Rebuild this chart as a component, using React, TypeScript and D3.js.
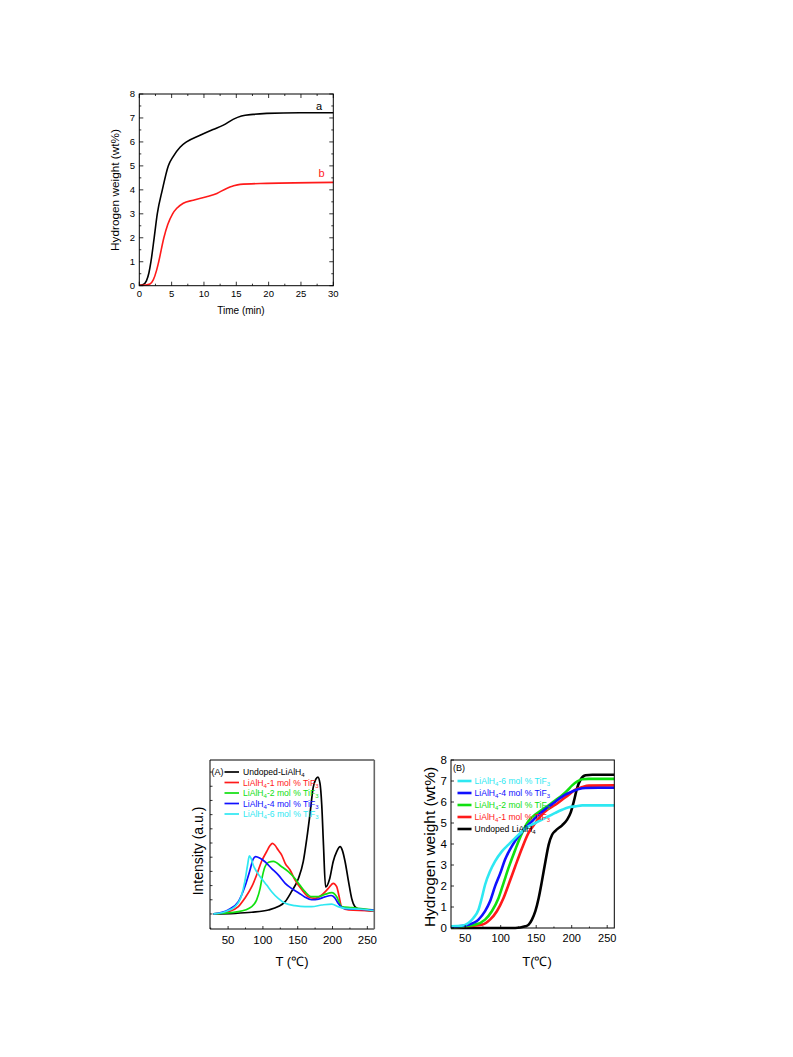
import React from 'react';
import * as d3 from 'd3';

// ---------- Top chart: hydrogen desorption vs time ----------
const timeA = [0, 0.6, 1.1, 1.5, 1.8, 2.3, 2.78, 3.56, 4.48, 5.26, 6.3, 7.3, 9.4, 11.4, 13, 14.5, 15.8, 17.6, 19.7, 24.8, 30];
const wtA = [0.02, 0.05, 0.2, 0.55, 1, 2, 3, 4, 5, 5.4, 5.78, 6.0, 6.28, 6.52, 6.7, 6.94, 7.08, 7.15, 7.19, 7.22, 7.22];
const timeB = [0, 1.0, 1.65, 2.16, 2.68, 3.0, 3.8, 4.4, 5.15, 5.8, 6.8, 8.35, 10.4, 12, 13.5, 14.5, 15.6, 19.7, 30];
const wtB = [0.02, 0.03, 0.07, 0.24, 0.65, 1.0, 2.0, 2.55, 3.0, 3.23, 3.44, 3.57, 3.71, 3.85, 4.06, 4.16, 4.23, 4.27, 4.31];
const timeTicks = [0, 5, 10, 15, 20, 25, 30];
const wtTicks = [0, 1, 2, 3, 4, 5, 6, 7, 8];

// ---------- (A) DSC ----------
const dscUndopedT = [29, 60, 84, 108, 122, 132, 141, 151, 158, 163, 168, 172, 176, 179, 182, 184.5, 187, 190, 196, 201, 206, 211, 214, 218, 223, 227.5, 232, 237, 260];
const dscUndopedI = [0, 0.04, 0.12, 0.28, 0.52, 0.87, 1.57, 2.5, 3.7, 5.3, 7.2, 8.85, 9.5, 9.65, 9.2, 7.7, 4.86, 1.9, 2.5, 3.7, 4.4, 4.74, 4.5, 3.7, 2.28, 1.1, 0.52, 0.35, 0.21];
const dsc1T = [29, 50, 64.7, 74, 84, 91, 98, 105.4, 110, 113.6, 117, 122, 127, 132, 139, 146, 156, 165, 175, 184.5, 194, 201, 206, 209, 213, 223, 260];
const dsc1I = [0, 0.16, 0.52, 1.1, 1.92, 2.75, 3.7, 4.4, 4.8, 4.98, 4.86, 4.5, 4.15, 3.57, 3.1, 2.4, 1.7, 1.22, 1.1, 1.34, 1.8, 2.16, 1.92, 1.34, 0.52, 0.28, 0.21];
const dsc2T = [29, 64.7, 84, 91, 96, 99, 103, 108, 115, 127, 136.5, 146, 153, 160.5, 170, 179.7, 189, 199, 206, 213, 227.5, 260];
const dsc2I = [0, 0.16, 0.52, 0.99, 1.8, 2.6, 3.33, 3.64, 3.7, 3.33, 2.98, 2.5, 2.04, 1.57, 1.22, 1.22, 1.38, 1.5, 1.22, 0.52, 0.45, 0.28];
const dsc4T = [29, 50, 64.7, 74, 81.5, 86, 89.6, 96, 103, 112.6, 122, 132, 141, 151, 160, 170, 180, 189, 198, 203, 208, 215.5, 237, 260];
const dsc4I = [0, 0.28, 0.87, 1.92, 3.1, 3.87, 4.04, 3.92, 3.68, 3.2, 2.75, 2.16, 1.8, 1.5, 1.2, 1.0, 1.05, 1.2, 1.3, 1.15, 0.75, 0.4, 0.33, 0.28];
const dsc6T = [29, 45.5, 60, 69.5, 74, 78, 80.5, 83, 86, 91, 98, 105.4, 112.6, 122, 132, 146, 160.5, 170, 184.5, 199, 208, 218, 242, 260];
const dsc6I = [0, 0.16, 0.52, 1.34, 2.28, 3.45, 4.1, 3.92, 3.45, 2.98, 2.5, 2.04, 1.57, 1.1, 0.75, 0.59, 0.52, 0.52, 0.63, 0.7, 0.52, 0.4, 0.33, 0.23];

// ---------- (B) TG ----------
const tg6T = [30, 45, 54.5, 61.6, 68.7, 73.4, 78, 85, 92, 101.7, 111, 120.5, 130, 139, 149, 158, 167.6, 177, 186.5, 196, 205, 214.8, 238, 260];
const tg6W = [0.08, 0.11, 0.24, 0.48, 0.87, 1.43, 2.06, 2.7, 3.17, 3.65, 3.97, 4.29, 4.6, 4.84, 5.0, 5.16, 5.32, 5.48, 5.63, 5.75, 5.79, 5.84, 5.84, 5.84];
const tg4T = [30, 54.5, 68.7, 78, 85, 92, 99.3, 106, 115.8, 125, 134.7, 144, 153.5, 163, 172.4, 181.8, 191, 200.7, 210, 219.5, 238, 260];
const tg4W = [0.05, 0.16, 0.4, 0.8, 1.27, 1.98, 2.6, 3.25, 3.9, 4.37, 4.76, 5.08, 5.4, 5.67, 5.9, 6.14, 6.35, 6.5, 6.62, 6.67, 6.68, 6.68];
const tg2T = [30, 64, 78, 87.5, 97, 104, 111, 120.5, 130, 139, 148.8, 158, 167.6, 177, 186.5, 193.6, 200.7, 208, 214.8, 224, 260];
const tg2W = [0.03, 0.16, 0.4, 0.8, 1.43, 2.14, 2.86, 3.73, 4.52, 5.08, 5.4, 5.63, 5.84, 6.08, 6.32, 6.54, 6.79, 6.98, 7.08, 7.1, 7.1];
const tg1T = [30, 73.4, 85, 94.6, 104, 111, 120.5, 130, 139, 148.8, 158, 167.6, 177, 186.5, 196, 205, 214.8, 224, 260];
const tg1W = [0.03, 0.16, 0.4, 0.8, 1.43, 2.06, 2.94, 3.8, 4.52, 5.0, 5.4, 5.68, 5.87, 6.11, 6.35, 6.59, 6.71, 6.78, 6.79];
const tgUndopedT = [30, 120.5, 134.7, 139.4, 144, 148.8, 153.5, 158, 163, 167.6, 172.4, 177, 186.5, 193.6, 198.4, 203, 207.7, 212.4, 219.5, 229, 260];
const tgUndopedW = [0, 0, 0.08, 0.16, 0.4, 0.8, 1.43, 2.22, 3.17, 3.97, 4.44, 4.63, 4.89, 5.16, 5.48, 6.03, 6.67, 7.06, 7.27, 7.3, 7.3];

const tempTicks = [50, 100, 150, 200, 250];
const tempMinor = [25, 75, 125, 175, 225];

const BLACK = '#000000';
const RED = '#ff1a1a';
const GREEN = '#10e010';
const BLUE = '#1010ff';
const CYAN = '#2ee8f2';

const FONT = 'Liberation Sans, Arial, sans-serif';

function pathOf(xs: number[], ys: number[], x: d3.ScaleLinear<number, number>, y: d3.ScaleLinear<number, number>) {
  const pts = xs.map((v, i) => [v, ys[i]] as [number, number]);
  return d3.line<[number, number]>().x(d => x(d[0])).y(d => y(d[1])).curve(d3.curveMonotoneX)(pts) || '';
}

function LegendLabel({ x, y, pre, s1, mid, s2, color, size }: any) {
  return (
    <text x={x} y={y + size * 0.35} fill={color} fontSize={size} fontFamily={FONT}>
      {pre}
      <tspan fontSize={size * 0.7} dy={size * 0.25}>{s1}</tspan>
      {mid !== undefined && <tspan dy={-size * 0.25}>{mid}</tspan>}
      {s2 !== undefined && <tspan fontSize={size * 0.7} dy={size * 0.25}>{s2}</tspan>}
    </text>
  );
}

function TopChart() {
  const x = d3.scaleLinear().domain([0, 30]).range([139.3, 333.3]);
  const y = d3.scaleLinear().domain([0, 8]).range([285.7, 94]);
  const [x0, x1] = x.range();
  const [yb, yt] = y.range();
  const minorX = d3.range(0, 30.01, 2.5);
  const minorY = d3.range(0, 8.01, 0.5);
  return (
    <g>
      <path d={pathOf(timeA, wtA, x, y)} fill="none" stroke={BLACK} strokeWidth={1.6} />
      <path d={pathOf(timeB, wtB, x, y)} fill="none" stroke={RED} strokeWidth={1.6} />
      <rect x={x0} y={yt} width={x1 - x0} height={yb - yt} fill="none" stroke="#000" strokeWidth={1} />
      {minorX.map(t => (
        <g key={'mx' + t}>
          <line x1={x(t)} x2={x(t)} y1={yb} y2={yb - (t % 5 === 0 ? 4 : 2)} stroke="#000" strokeWidth={0.8} />
          <line x1={x(t)} x2={x(t)} y1={yt} y2={yt + (t % 5 === 0 ? 4 : 2)} stroke="#000" strokeWidth={0.8} />
        </g>
      ))}
      {minorY.map(v => (
        <g key={'my' + v}>
          <line x1={x0} x2={x0 + (v % 1 === 0 ? 4 : 2)} y1={y(v)} y2={y(v)} stroke="#000" strokeWidth={0.8} />
          <line x1={x1} x2={x1 - (v % 1 === 0 ? 4 : 2)} y1={y(v)} y2={y(v)} stroke="#000" strokeWidth={0.8} />
        </g>
      ))}
      {timeTicks.map(t => (
        <text key={'tl' + t} x={x(t)} y={297} textAnchor="middle" fontSize={9.5} fontFamily={FONT}>{t}</text>
      ))}
      {wtTicks.map(v => (
        <text key={'wl' + v} x={135} y={y(v) + 3.3} textAnchor="end" fontSize={9.5} fontFamily={FONT}>{v}</text>
      ))}
      <text x={241} y={314} textAnchor="middle" fontSize={10} fontFamily={FONT}>Time (min)</text>
      <text transform="translate(119,190) rotate(-90)" textAnchor="middle" fontSize={11.8} fontFamily={FONT}>Hydrogen weight (wt%)</text>
      <text x={x(27.8)} y={y(7.22) - 3} textAnchor="middle" fontSize={11} fontFamily={FONT}>a</text>
      <text x={x(28.2)} y={y(4.31) - 5} textAnchor="middle" fontSize={11} fontFamily={FONT} fill={RED}>b</text>
    </g>
  );
}

function ChartA() {
  const x = d3.scaleLinear().domain([24, 260]).range([210, 374.3]);
  const y = d3.scaleLinear().domain([-1.06, 10.85]).range([929, 760]);
  const [x0, x1] = x.range();
  const [yb, yt] = y.range();
  const series = [
    { t: dscUndopedT, v: dscUndopedI, c: BLACK },
    { t: dsc1T, v: dsc1I, c: RED },
    { t: dsc2T, v: dsc2I, c: GREEN },
    { t: dsc4T, v: dsc4I, c: BLUE },
    { t: dsc6T, v: dsc6I, c: CYAN },
  ];
  const legend = [
    { c: BLACK, pre: 'Undoped-LiAlH', s1: '4' },
    { c: RED, pre: 'LiAlH', s1: '4', mid: '-1 mol % TiF', s2: '3' },
    { c: GREEN, pre: 'LiAlH', s1: '4', mid: '-2 mol % TiF', s2: '3' },
    { c: BLUE, pre: 'LiAlH', s1: '4', mid: '-4 mol % TiF', s2: '3' },
    { c: CYAN, pre: 'LiAlH', s1: '4', mid: '-6 mol % TiF', s2: '3' },
  ];
  const yTicks = d3.range(0, 11, 1);
  return (
    <g>
      {series.map((s, i) => (
        <path key={i} d={pathOf(s.t, s.v, x, y)} fill="none" stroke={s.c} strokeWidth={1.7} />
      ))}
      <line x1={x0} x2={x1} y1={yt} y2={yt} stroke="#000" strokeWidth={1} />
      <line x1={x0} x2={x0} y1={yt} y2={yb} stroke="#000" strokeWidth={1} />
      <line x1={x0} x2={x1} y1={yb} y2={yb} stroke="#000" strokeWidth={1} />
      <line x1={x1} x2={x1} y1={yt} y2={yb} stroke="#666" strokeWidth={1.6} />
      {tempTicks.map(t => (
        <line key={'a' + t} x1={x(t)} x2={x(t)} y1={yb} y2={yb - 3} stroke="#000" strokeWidth={0.8} />
      ))}
      {tempMinor.map(t => (
        <line key={'am' + t} x1={x(t)} x2={x(t)} y1={yb} y2={yb - 1.5} stroke="#000" strokeWidth={0.8} />
      ))}
      {yTicks.map(v => (
        <line key={'ay' + v} x1={x0} x2={x0 + 2.5} y1={y(v)} y2={y(v)} stroke="#000" strokeWidth={0.8} />
      ))}
      {tempTicks.map(t => (
        <text key={'al' + t} x={x(t)} y={944} textAnchor="middle" fontSize={11.5} fontFamily={FONT}>{t}</text>
      ))}
      <text x={292} y={966} textAnchor="middle" fontSize={13} fontFamily={FONT}>T (℃)</text>
      <text transform="translate(203,851) rotate(-90)" textAnchor="middle" fontSize={14} fontFamily={FONT}>Intensity (a.u.)</text>
      <text x={211.5} y={775} fontSize={9} fontFamily={FONT}>(A)</text>
      {legend.map((l, i) => {
        const ly = 772 + i * 10.5;
        return (
          <g key={'lg' + i}>
            <line x1={224.5} x2={239} y1={ly} y2={ly} stroke={l.c} strokeWidth={1.7} />
            <LegendLabel x={243} y={ly} pre={l.pre} s1={l.s1} mid={l.mid} s2={l.s2} color={l.c} size={8.6} />
          </g>
        );
      })}
    </g>
  );
}

function ChartB() {
  const x = d3.scaleLinear().domain([30, 260]).range([451, 614.3]);
  const y = d3.scaleLinear().domain([0, 8]).range([928, 760]);
  const [x0, x1] = x.range();
  const [yb, yt] = y.range();
  const series = [
    { t: tgUndopedT, v: tgUndopedW, c: BLACK },
    { t: tg1T, v: tg1W, c: RED },
    { t: tg2T, v: tg2W, c: GREEN },
    { t: tg4T, v: tg4W, c: BLUE },
    { t: tg6T, v: tg6W, c: CYAN },
  ];
  const legend = [
    { c: CYAN, pre: 'LiAlH', s1: '4', mid: '-6 mol % TiF', s2: '3' },
    { c: BLUE, pre: 'LiAlH', s1: '4', mid: '-4 mol % TiF', s2: '3' },
    { c: GREEN, pre: 'LiAlH', s1: '4', mid: '-2 mol % TiF', s2: '3' },
    { c: RED, pre: 'LiAlH', s1: '4', mid: '-1 mol % TiF', s2: '3' },
    { c: BLACK, pre: 'Undoped LiAlH', s1: '4' },
  ];
  const yTicks = d3.range(0, 9, 1);
  return (
    <g>
      {series.map((s, i) => (
        <path key={i} d={pathOf(s.t, s.v, x, y)} fill="none" stroke={s.c} strokeWidth={2.6} />
      ))}
      <rect x={x0} y={yt} width={x1 - x0} height={yb - yt} fill="none" stroke="#000" strokeWidth={1} />
      {tempTicks.map(t => (
        <line key={'b' + t} x1={x(t)} x2={x(t)} y1={yb} y2={yb - 3} stroke="#000" strokeWidth={0.8} />
      ))}
      {tempMinor.filter(t => t > 30).map(t => (
        <line key={'bm' + t} x1={x(t)} x2={x(t)} y1={yb} y2={yb - 1.5} stroke="#000" strokeWidth={0.8} />
      ))}
      {yTicks.map(v => (
        <line key={'by' + v} x1={x0} x2={x0 + 3} y1={y(v)} y2={y(v)} stroke="#000" strokeWidth={0.8} />
      ))}
      {tempTicks.map(t => (
        <text key={'bl' + t} x={x(t)} y={942} textAnchor="middle" fontSize={11} fontFamily={FONT}>{t}</text>
      ))}
      {yTicks.map(v => (
        <text key={'byl' + v} x={447} y={y(v) + 4} textAnchor="end" fontSize={11.5} fontFamily={FONT}>{v}</text>
      ))}
      <text x={537} y={966} textAnchor="middle" fontSize={13} fontFamily={FONT}>T(℃)</text>
      <text transform="translate(435,847) rotate(-90)" textAnchor="middle" fontSize={15.5} fontFamily={FONT}>Hydrogen weight (wt%)</text>
      <text x={453} y={771} fontSize={9} fontFamily={FONT}>(B)</text>
      {legend.map((l, i) => {
        const ly = 781 + i * 12;
        return (
          <g key={'lgb' + i}>
            <line x1={457.5} x2={471.5} y1={ly} y2={ly} stroke={l.c} strokeWidth={2.6} />
            <LegendLabel x={474.5} y={ly} pre={l.pre} s1={l.s1} mid={l.mid} s2={l.s2} color={l.c} size={8.6} />
          </g>
        );
      })}
    </g>
  );
}

export default function App() {
  return (
    <svg width={793} height={1057} style={{ position: 'absolute', left: 0, top: 0, background: '#fff' }}>
      <rect x={0} y={0} width={793} height={1057} fill="#fff" />
      <TopChart />
      <ChartA />
      <ChartB />
    </svg>
  );
}
